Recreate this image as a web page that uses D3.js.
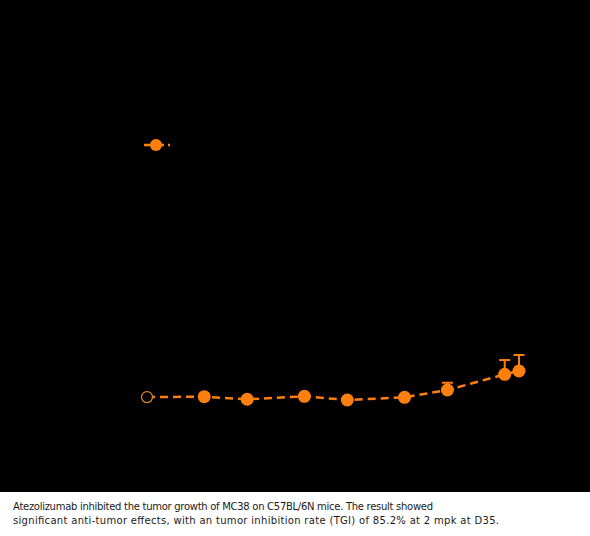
<!DOCTYPE html>
<html>
<head>
<meta charset="utf-8">
<script src="https://cdn.jsdelivr.net/npm/d3@7"></script>
<style>
  body { margin: 0; background: #fff; }
  svg { display: block; }
</style>
</head>
<body>
<div id="chart"></div>
<script>
// data (tumor volume, mm3)
var days = [9, 13, 16, 20, 23, 27, 30, 34, 35];
var volume = [105, 108, 87, 111, 81, 103, 162, 289, 316];
var sem = [0, 8, 6, 8, 6, 8, 59, 116, 130];
var seriesName = "Atezolizumab, 2 mpk";
var caption = [
  "Atezolizumab inhibited the tumor growth of MC38 on C57BL/6N mice. The result showed",
  "significant anti-tumor effects, with an tumor inhibition rate (TGI) of 85.2% at 2 mpk at D35."
];
var captionWidth = [420, 486];

var width = 590, height = 536;
var plotBottom = 492;
var orange = "#ff7f0e";

var svg = d3.select("#chart").append("svg")
            .attr("width", width)
            .attr("height", height);

// chart area (dark background)
svg.append("rect")
   .attr("x", 0).attr("y", 0)
   .attr("width", width).attr("height", plotBottom)
   .attr("fill", "#000");

var x = d3.scaleLinear()
          .domain([5, 37])
          .range([89.8, 547.6]);

var y = d3.scaleLinear()
          .domain([0, 3000])
          .range([410, 40]);

var pts = days.map(function(d, i) {
  return {day: d, v: volume[i], e: sem[i], i: i};
});

var line = d3.line()
             .x(function(d) { return x(d.day); })
             .y(function(d) { return y(d.v); });

svg.append("path")
   .datum(pts)
   .attr("d", line)
   .attr("fill", "none")
   .attr("stroke", orange)
   .attr("stroke-width", 2.5)
   .attr("stroke-dasharray", "8,5");

// error bars (upper only)
var err = svg.append("g").selectAll("g")
             .data(pts.filter(function(d) { return d.e > 0; }))
             .enter().append("g");

err.append("line")
   .attr("x1", function(d) { return x(d.day); })
   .attr("x2", function(d) { return x(d.day); })
   .attr("y1", function(d) { return y(d.v); })
   .attr("y2", function(d) { return y(d.v + d.e); })
   .attr("stroke", orange)
   .attr("stroke-width", 2);

err.append("line")
   .attr("x1", function(d) { return x(d.day) - 5.5; })
   .attr("x2", function(d) { return x(d.day) + 5.5; })
   .attr("y1", function(d) { return y(d.v + d.e); })
   .attr("y2", function(d) { return y(d.v + d.e); })
   .attr("stroke", orange)
   .attr("stroke-width", 2);

// markers, first one hollow
svg.append("g").selectAll("circle")
   .data(pts)
   .enter().append("circle")
   .attr("cx", function(d) { return x(d.day); })
   .attr("cy", function(d) { return y(d.v); })
   .attr("r", function(d) { return d.i == 0 ? 5.5 : 6.5; })
   .attr("fill", function(d) { return d.i == 0 ? "#000" : orange; })
   .attr("stroke", function(d) { return d.i == 0 ? "#d88526" : "none"; })
   .attr("stroke-width", 1.3);

// legend
var legend = svg.append("g")
                .attr("class", "legend")
                .attr("transform", "translate(144,145)");

legend.append("line")
      .attr("x1", 0).attr("x2", 26)
      .attr("y1", 0).attr("y2", 0)
      .attr("stroke", orange)
      .attr("stroke-width", 2.5)
      .attr("stroke-dasharray", "8,4");

legend.append("circle")
      .attr("cx", 12).attr("cy", 0)
      .attr("r", 6)
      .attr("fill", orange)
      .datum(seriesName);

// caption under the chart
svg.append("g").selectAll("text")
   .data(caption)
   .enter().append("text")
   .attr("x", 13)
   .attr("y", function(d, i) { return 510 + i * 13.5; })
   .attr("font-family", "'DejaVu Sans', sans-serif")
   .attr("font-size", 10)
   .attr("fill", "#1a1a1a")
   .attr("textLength", function(d, i) { return captionWidth[i]; })
   .attr("lengthAdjust", "spacing")
   .text(function(d) { return d; });
</script>
</body>
</html>
